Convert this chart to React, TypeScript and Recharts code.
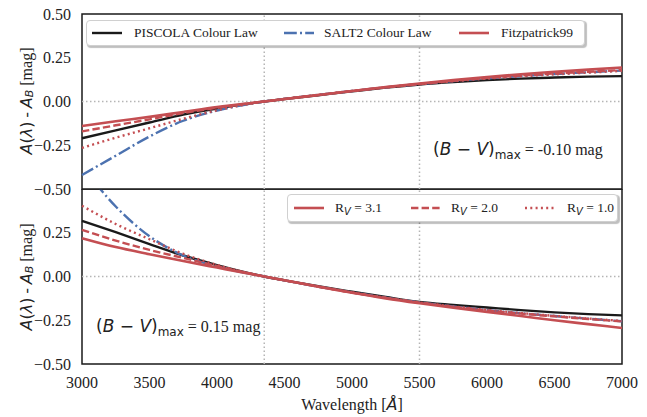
import { LineChart, Line, XAxis, YAxis, ReferenceLine, ReferenceArea } from "recharts";

const WAVELENGTH = [3000, 3250, 3500, 3750, 4000, 4350, 4500, 4750, 5000, 5250, 5500, 5750, 6000, 6250, 6500, 6750, 7000];

// (B-V)max = -0.10 mag
const PISCOLA_NEG = [-0.21, -0.165, -0.12, -0.075, -0.04, 0, 0.014, 0.036, 0.058, 0.079, 0.097, 0.111, 0.122, 0.131, 0.137, 0.142, 0.145];
const SALT2_NEG = [-0.42, -0.31, -0.2, -0.11, -0.052, 0, 0.015, 0.038, 0.06, 0.081, 0.1, 0.117, 0.132, 0.145, 0.157, 0.167, 0.177];
const F99_31_NEG = [-0.14, -0.113, -0.088, -0.06, -0.032, 0, 0.014, 0.037, 0.06, 0.082, 0.103, 0.122, 0.14, 0.156, 0.17, 0.182, 0.194];
const F99_20_NEG = [-0.171, -0.136, -0.102, -0.066, -0.036, 0, 0.014, 0.037, 0.06, 0.081, 0.1, 0.118, 0.134, 0.148, 0.16, 0.17, 0.18];
const F99_10_NEG = [-0.265, -0.207, -0.153, -0.099, -0.05, 0, 0.015, 0.038, 0.06, 0.08, 0.099, 0.116, 0.131, 0.144, 0.155, 0.165, 0.175];

// (B-V)max = 0.15 mag
const PISCOLA_POS = [0.318, 0.253, 0.185, 0.12, 0.065, 0, -0.022, -0.056, -0.087, -0.117, -0.145, -0.162, -0.177, -0.192, -0.205, -0.215, -0.222];
const SALT2_POS = [0.63, 0.4, 0.23, 0.12, 0.058, 0, -0.022, -0.058, -0.091, -0.121, -0.148, -0.171, -0.192, -0.21, -0.226, -0.241, -0.256];
const F99_31_POS = [0.219, 0.168, 0.127, 0.088, 0.051, 0, -0.021, -0.058, -0.093, -0.125, -0.153, -0.179, -0.203, -0.226, -0.25, -0.272, -0.294];
const F99_20_POS = [0.267, 0.205, 0.152, 0.106, 0.06, 0, -0.022, -0.058, -0.092, -0.122, -0.149, -0.173, -0.194, -0.212, -0.228, -0.243, -0.257];
const F99_10_POS = [0.404, 0.3, 0.213, 0.13, 0.066, 0, -0.022, -0.058, -0.091, -0.121, -0.148, -0.171, -0.191, -0.209, -0.225, -0.24, -0.254];

const X_TICKS = [3000, 3500, 4000, 4500, 5000, 5500, 6000, 6500, 7000];
const Y_TICKS_TOP = [0.5, 0.25, 0, -0.25, -0.5];
const Y_TICKS_BOTTOM = [0.25, 0, -0.25, -0.5];
const GUIDE_X = [4350, 5500];

const LAW_LABELS = ["PISCOLA Colour Law", "SALT2 Colour Law", "Fitzpatrick99"];
const RV_LABELS = ["3.1", "2.0", "1.0"];

const BLACK = "#1a1a1a";
const BLUE = "#4c72b0";
const RED = "#c44e52";
const SERIF = "'Liberation Serif', serif";
const MATH = "'DejaVu Sans', sans-serif";

const SERIES = [
  { key: "piscola", color: BLACK, dash: undefined, width: 2.4 },
  { key: "salt2", color: BLUE, dash: "12.8 3.2 2 3.2", width: 2.4 },
  { key: "f99_31", color: RED, dash: undefined, width: 2.6 },
  { key: "f99_20", color: RED, dash: "7.4 3.2", width: 2.4 },
  { key: "f99_10", color: RED, dash: "2 3.3", width: 2.4 },
];

function buildRows(cols: number[][]) {
  return WAVELENGTH.map((w, i) => ({
    w,
    piscola: cols[0][i],
    salt2: cols[1][i],
    f99_31: cols[2][i],
    f99_20: cols[3][i],
    f99_10: cols[4][i],
  }));
}

const topRows = buildRows([PISCOLA_NEG, SALT2_NEG, F99_31_NEG, F99_20_NEG, F99_10_NEG]);
const bottomRows = buildRows([PISCOLA_POS, SALT2_POS, F99_31_POS, F99_20_POS, F99_10_POS]);

const fmtY = (v: number) => (v < 0 ? "\u2212" + Math.abs(v).toFixed(2) : v.toFixed(2));
const tickStyle = { fill: "#222", fontSize: 16, fontFamily: SERIF };

function Panel({ rows, yTicks, showX }: { rows: any[]; yTicks: number[]; showX: boolean }) {
  return (
    <LineChart
      width={647}
      height={showX ? 228 : 202}
      data={rows}
      margin={{ top: showX ? 0 : 14, right: 25, bottom: showX ? 0 : 13, left: 22 }}
      style={{ overflow: "visible" }}
    >
      <XAxis
        dataKey="w"
        type="number"
        domain={[3000, 7000]}
        ticks={X_TICKS}
        hide={!showX}
        height={53}
        axisLine={false}
        tickLine={false}
        tickSize={6}
        tickMargin={7}
        tick={tickStyle}
      />
      <YAxis
        type="number"
        domain={[-0.5, 0.5]}
        allowDataOverflow
        ticks={yTicks}
        width={60}
        axisLine={false}
        tickLine={false}
        tickSize={6}
        tickMargin={5}
        tick={tickStyle}
        tickFormatter={fmtY}
        interval={0}
      />
      {GUIDE_X.map((x) => (
        <ReferenceLine key={x} x={x} stroke="#b5b5b5" strokeWidth={1.5} strokeDasharray="1.5 2.5" />
      ))}
      <ReferenceLine y={0} stroke="#b5b5b5" strokeWidth={1.5} strokeDasharray="1.5 2.5" />
      {SERIES.map((s) => (
        <Line
          key={s.key}
          dataKey={s.key}
          type="monotone"
          stroke={s.color}
          strokeWidth={s.width}
          strokeDasharray={s.dash}
          dot={false}
          activeDot={false}
          isAnimationActive={false}
        />
      ))}
      <ReferenceArea x1={3000} x2={7000} y1={-0.5} y2={0.5} fill="none" stroke={BLACK} strokeWidth={1.5} />
    </LineChart>
  );
}

type Sample = { color: string; dash?: string; width: number };

function LegendItem({ s, x, tx, children }: { s: Sample; x: number; tx: number; children: React.ReactNode }) {
  return (
    <>
      <svg width={30} height={10} style={{ position: "absolute", left: x, top: "50%", marginTop: -5 }}>
        <line x1={0} y1={5} x2={30} y2={5} stroke={s.color} strokeWidth={s.width} strokeDasharray={s.dash} />
      </svg>
      <span style={{ position: "absolute", left: tx, top: "50%", transform: "translateY(-50%)" }}>{children}</span>
    </>
  );
}

const legendBox: React.CSSProperties = {
  position: "absolute",
  background: "#fff",
  border: "1px solid #d0d0d0",
  borderRadius: 4,
  boxShadow: "1.5px 1.5px 1px rgba(0,0,0,0.25)",
  fontFamily: SERIF,
  fontSize: 13.5,
  color: "#222",
  boxSizing: "border-box",
  whiteSpace: "nowrap",
};

// sample / text offsets inside each legend frame
const TOP_SLOTS = [[5, 47], [197, 237], [372, 414]];
const BOTTOM_SLOTS = [[6, 47], [123, 163], [237, 279]];

function YLabel({ cy }: { cy: number }) {
  return (
    <text transform={`translate(26 ${cy}) rotate(-90)`} textAnchor="middle" fontSize={16} fill="#222" dominantBaseline="central">
      <tspan fontFamily={MATH} fontStyle="italic">A</tspan>
      <tspan fontFamily={MATH}>(</tspan>
      <tspan fontFamily={MATH} fontStyle="italic">λ</tspan>
      <tspan fontFamily={MATH}>)</tspan>
      <tspan fontFamily={SERIF}> - </tspan>
      <tspan fontFamily={MATH} fontStyle="italic">A</tspan>
      <tspan fontFamily={MATH} fontStyle="italic" fontSize={11} dy={3}>B</tspan>
      <tspan fontFamily={SERIF} dy={-3}> [mag]</tspan>
    </text>
  );
}

function ColourNote({ x, y, value }: { x: number; y: number; value: string }) {
  return (
    <text x={x} y={y} fontSize={17} fill="#222">
      <tspan fontFamily={MATH}>(</tspan>
      <tspan fontFamily={MATH} fontStyle="italic">B</tspan>
      <tspan fontFamily={MATH}> − </tspan>
      <tspan fontFamily={MATH} fontStyle="italic">V</tspan>
      <tspan fontFamily={MATH}>)</tspan>
      <tspan fontFamily={MATH} fontSize={12} dy={4}>max</tspan>
      <tspan fontFamily={SERIF} fontSize={16} dy={-4}> = {value} mag</tspan>
    </text>
  );
}

export default function App() {
  document.body.style.margin = "0";
  return (
    <div style={{ position: "relative", width: 647, height: 417, background: "#fff", overflow: "hidden" }}>
      <div style={{ position: "absolute", left: 0, top: 189 }}>
        <Panel rows={bottomRows} yTicks={Y_TICKS_BOTTOM} showX />
      </div>
      <div style={{ position: "absolute", left: 0, top: 0 }}>
        <Panel rows={topRows} yTicks={Y_TICKS_TOP} showX={false} />
      </div>

      <svg width={647} height={417} style={{ position: "absolute", left: 0, top: 0, pointerEvents: "none" }}>
        <YLabel cy={101} />
        <YLabel cy={277} />
        <ColourNote x={433} y={155} value="-0.10" />
        <ColourNote x={96} y={332} value="0.15" />
        <text x={352} y={410} textAnchor="middle" fontSize={16} fill="#222">
          <tspan fontFamily={SERIF}>Wavelength [</tspan>
          <tspan fontFamily={MATH} fontStyle="italic">Å</tspan>
          <tspan fontFamily={SERIF}>]</tspan>
        </text>
      </svg>

      <div style={{ ...legendBox, left: 86, top: 20, width: 499, height: 26 }}>
        {LAW_LABELS.map((label, i) => (
          <LegendItem key={label} s={SERIES[i]} x={TOP_SLOTS[i][0]} tx={TOP_SLOTS[i][1]}>
            {label}
          </LegendItem>
        ))}
      </div>

      <div style={{ ...legendBox, left: 287, top: 194, width: 331, height: 28 }}>
        {RV_LABELS.map((rv, i) => (
          <LegendItem key={rv} s={SERIES[i + 2]} x={BOTTOM_SLOTS[i][0]} tx={BOTTOM_SLOTS[i][1]}>
            R
            <span style={{ fontFamily: MATH, fontStyle: "italic", fontSize: 10, position: "relative", top: 3 }}>V</span>
            {" = " + rv}
          </LegendItem>
        ))}
      </div>
    </div>
  );
}
